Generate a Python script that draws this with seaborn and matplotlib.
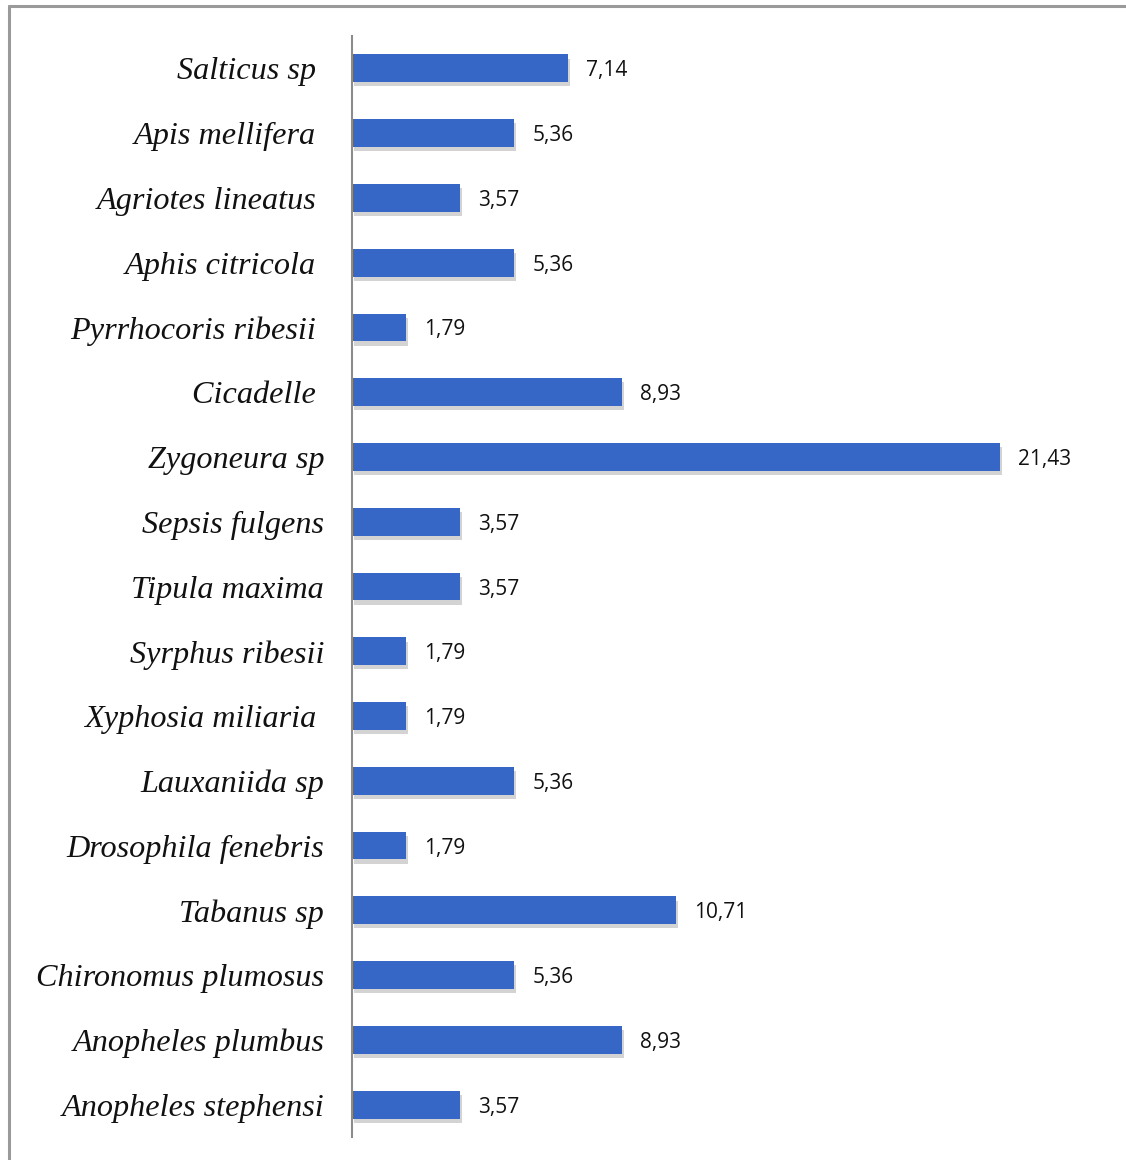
import matplotlib
matplotlib.use("Agg")
import matplotlib.pyplot as plt
import matplotlib.patheffects as pe
from matplotlib.lines import Line2D
import seaborn as sns
import pandas as pd

species = ["Salticus sp ", "Apis mellifera ", "Agriotes lineatus ", "Aphis citricola ",
           "Pyrrhocoris ribesii ", "Cicadelle ", "Zygoneura sp", "Sepsis fulgens",
           "Tipula maxima", "Syrphus ribesii", "Xyphosia miliaria ", "Lauxaniida sp",
           "Drosophila fenebris", "Tabanus sp", "Chironomus plumosus", "Anopheles plumbus",
           "Anopheles stephensi"]
values = [7.14, 5.36, 3.57, 5.36, 1.79, 8.93, 21.43, 3.57, 3.57, 1.79, 1.79, 5.36,
          1.79, 10.71, 5.36, 8.93, 3.57]
labels = ["7,14", "5,36", "3,57", "5,36", "1,79", "8,93", "21,43", "3,57", "3,57", "1,79",
          "1,79", "5,36", "1,79", "10,71", "5,36", "8,93", "3,57"]

df = pd.DataFrame({"species": species, "value": values})

sns.set_theme(style="white")
W, H = 1126, 1160
fig = plt.figure(figsize=(W / 100, H / 100), dpi=100)
px_per_unit = 30.24
ax_left, ax_right = 352, 1100
ax_top, ax_bottom = 36, 1137
ax = fig.add_axes([ax_left / W, 1 - ax_bottom / H, (ax_right - ax_left) / W, (ax_bottom - ax_top) / H])

sns.barplot(data=df, y="species", x="value", orient="h", color="#3767c6",
            width=0.43, saturation=1, ax=ax)
for p in ax.patches:
    p.set_path_effects([pe.SimplePatchShadow(offset=(1.5, -3), shadow_rgbFace="#707070", alpha=0.3),
                        pe.Normal()])
    p.set_edgecolor("none")

ax.set_xlim(0, (ax_right - ax_left) / px_per_unit)
ax.set_ylim(len(species) - 0.5, -0.5)

for c in ax.containers:
    txts = ax.bar_label(c, labels=labels, padding=13, fontsize=15, family="Open Sans", color="#111111")
    for t in txts:
        t.set_va("center_baseline")

ax.set_xlabel("")
ax.set_ylabel("")
ax.set_xticks([])
ax.tick_params(axis="y", length=0, pad=20)
for t in ax.get_yticklabels():
    t.set_fontfamily("Liberation Serif")
    t.set_fontstyle("italic")
    t.set_fontsize(23.2)
    t.set_color("#111111")
for s in ["top", "right", "bottom"]:
    ax.spines[s].set_visible(False)
ax.spines["left"].set_color("#8c8c8c")
ax.spines["left"].set_linewidth(1.5)

# outer frame
fig.add_artist(Line2D([9 / W, 1], [1 - 6 / H, 1 - 6 / H], transform=fig.transFigure,
                      color="#9a9a9a", lw=2.2))
fig.add_artist(Line2D([9 / W, 9 / W], [0, 1 - 6 / H], transform=fig.transFigure,
                      color="#9a9a9a", lw=2.2))

fig.savefig("out.png", dpi=100, facecolor="white")
